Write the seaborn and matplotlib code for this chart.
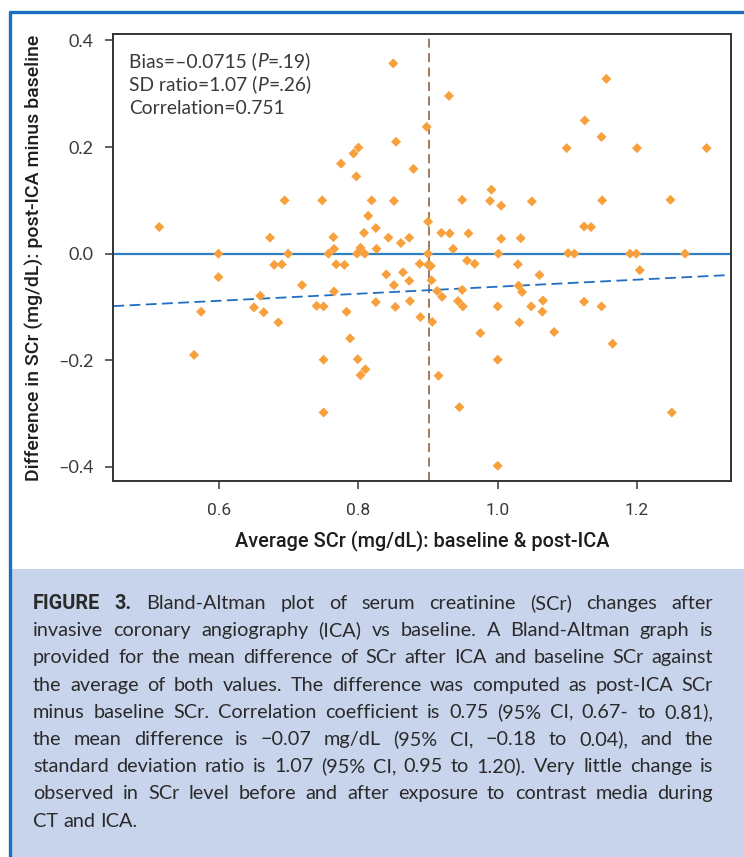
import numpy as np
import pandas as pd
import matplotlib
matplotlib.use("Agg")
import matplotlib.pyplot as plt
import seaborn as sns
from matplotlib.lines import Line2D
from matplotlib.patches import Rectangle

# ---------------- data ----------------
avg_scr = [0.514, 0.694, 0.673, 0.599, 0.699, 0.850, 0.930, 0.898, 0.854, 0.800,
           0.793, 0.775, 0.797, 0.879, 0.748, 0.819, 0.851, 0.949, 0.991, 0.989,
           1.005, 0.814, 0.825, 0.808, 0.764, 0.843, 0.873, 0.900, 0.919, 0.931,
           0.958, 1.005, 1.033, 0.765, 0.803, 0.826, 0.861, 0.936, 0.757, 0.798,
           0.809, 0.900, 1.001, 1.156, 1.125, 1.149, 1.099, 1.200, 1.300, 1.049,
           1.150, 1.248, 1.124, 1.134, 1.101, 1.110, 1.190, 1.199, 1.269, 0.679,
           0.690, 0.599, 0.719, 0.659, 0.650, 0.664, 0.685, 0.574, 0.564, 0.740,
           0.768, 0.780, 0.888, 0.900, 0.904, 0.956, 0.967, 1.029, 0.840, 0.864,
           0.851, 0.873, 0.905, 0.765, 0.913, 0.920, 0.949, 0.943, 0.950, 0.750,
           0.783, 0.825, 0.853, 0.874, 0.889, 0.906, 1.000, 1.030, 0.788, 0.975,
           0.750, 0.799, 0.810, 0.803, 0.915, 1.000, 0.945, 0.750, 1.000, 1.031,
           1.060, 1.204, 1.035, 1.065, 1.048, 1.064, 1.124, 1.149, 1.081, 1.165,
           1.250]
diff_scr = [0.050, 0.100, 0.030, 0.000, 0.000, 0.357, 0.296, 0.238, 0.210, 0.199,
            0.188, 0.169, 0.145, 0.159, 0.100, 0.100, 0.099, 0.101, 0.120, 0.099,
            0.090, 0.071, 0.048, 0.039, 0.031, 0.030, 0.030, 0.060, 0.039, 0.038,
            0.038, 0.028, 0.029, 0.009, 0.011, 0.009, 0.020, 0.009, 0.000, 0.000,
            0.000, 0.000, 0.000, 0.328, 0.250, 0.219, 0.198, 0.198, 0.198, 0.098,
            0.100, 0.101, 0.051, 0.050, 0.001, 0.000, 0.000, 0.000, 0.000, -0.021,
            -0.020, -0.044, -0.059, -0.079, -0.101, -0.110, -0.129, -0.109, -0.190, -0.098,
            -0.020, -0.021, -0.019, -0.021, -0.023, -0.013, -0.019, -0.020, -0.039, -0.035,
            -0.059, -0.051, -0.050, -0.071, -0.070, -0.081, -0.068, -0.089, -0.099, -0.099,
            -0.109, -0.091, -0.100, -0.089, -0.119, -0.128, -0.099, -0.060, -0.159, -0.149,
            -0.199, -0.198, -0.217, -0.228, -0.229, -0.199, -0.288, -0.298, -0.398, -0.129,
            -0.040, -0.031, -0.072, -0.088, -0.099, -0.109, -0.090, -0.099, -0.147, -0.169,
            -0.298]
mean_avg = 0.901          # vertical reference line
zero_diff = 0.0           # horizontal reference line
reg_intercept = -0.128    # regression of difference on average
reg_slope = 0.066
x_ticks = [0.6, 0.8, 1.0, 1.2]
y_ticks = [0.4, 0.2, 0.0, -0.2, -0.4]
stats_lines = [
    [("Bias=\u20130.0715 (", "n"), ("P", "i"), ("=.19)", "n")],
    [("SD ratio=1.07 (", "n"), ("P", "i"), ("=.26)", "n")],
    [("Correlation=0.751", "n")],
]
x_label = "Average SCr (mg/dL): baseline & post-ICA"
y_label = "Difference in SCr (mg/dL): post-ICA minus baseline"
caption_lines = [
    "FIGURE 3. Bland-Altman plot of serum creatinine (SCr) changes after",
    "invasive coronary angiography (ICA) vs baseline. A Bland-Altman graph is",
    "provided for the mean difference of SCr after ICA and baseline SCr against",
    "the average of both values. The difference was computed as post-ICA SCr",
    "minus baseline SCr. Correlation coefficient is 0.75 (95% CI, 0.67- to 0.81),",
    "the mean difference is \u22120.07 mg/dL (95% CI, \u22120.18 to 0.04), and the",
    "standard deviation ratio is 1.07 (95% CI, 0.95 to 1.20). Very little change is",
    "observed in SCr level before and after exposure to contrast media during",
    "CT and ICA.",
]

# ---------------- style ----------------
sns.set_style("ticks")
plt.rcParams['font.family'] = ['Lato', 'DejaVu Sans']
plt.rcParams['axes.unicode_minus'] = True

W, H = 744, 857
fig = plt.figure(figsize=(W / 100, H / 100), dpi=100)
fig.patch.set_facecolor("white")

TEXT = "#3a3a3a"
BLUE_BORDER = "#1a6fc0"
ORANGE = "#f7a03c"
COND = ['Roboto', 'DejaVu Sans']
BODY = ['Lato', 'DejaVu Sans']

def fx(px):
    return px / W

def fy(py):
    return 1 - py / H

# caption box and border
fig.add_artist(Rectangle((fx(12), 0), 1 - fx(12), fy(569), transform=fig.transFigure,
                         facecolor="#c8d4eb", edgecolor="none", zorder=0))
fig.add_artist(Line2D([fx(10), fx(10)], [0, fy(11)], transform=fig.transFigure,
                      color=BLUE_BORDER, lw=2.4, solid_capstyle="butt"))
fig.add_artist(Line2D([fx(9), 1], [fy(11.5), fy(11.5)], transform=fig.transFigure,
                      color=BLUE_BORDER, lw=2.4, solid_capstyle="butt"))

ax = fig.add_axes([fx(113.3), fy(480.7), fx(731 - 113.3), (480.7 - 34.3) / H])
df = pd.DataFrame({"avg": avg_scr, "diff": diff_scr})
sns.scatterplot(data=df, x="avg", y="diff", ax=ax, marker="D", color=ORANGE,
                s=26, edgecolor="none", linewidth=0, zorder=3)
ax.axhline(zero_diff, color="#2f7fc4", lw=1.6, zorder=2)
ax.axvline(mean_avg, color="#9a7050", lw=1.3, ls=(0, (5, 3)), zorder=2)
ax.axline((0.0, reg_intercept), slope=reg_slope, color="#1f6fc0", lw=1.3,
          ls=(0, (6, 3)), zorder=2)

ax.set_xlim(0.448, 1.335)
ax.set_ylim(-0.426, 0.4116)
ax.set_xticks(x_ticks)
ax.set_yticks(y_ticks)
ax.set_xticklabels([f"{v:.1f}" for v in x_ticks], fontfamily=COND, fontsize=12.5, color=TEXT)
ax.set_yticklabels([f"{v:.1f}".replace("-", "\u2013") for v in y_ticks],
                   fontfamily=BODY, fontsize=13, color=TEXT)
ax.tick_params(axis="both", direction="out", length=6, width=1.3, color="#555555")
ax.tick_params(axis="x", pad=10)
ax.tick_params(axis="y", pad=8)
for s in ax.spines.values():
    s.set_visible(True)
    s.set_color("#333333")
    s.set_linewidth(1.4)
ax.set_xlabel(x_label, fontfamily=COND, fontweight="medium", fontsize=14.3,
              color="#1e1e1e", labelpad=9)
ax.set_ylabel(y_label, fontfamily=COND, fontweight="medium", fontsize=14,
              color="#1e1e1e", labelpad=10)

fig.canvas.draw()
renderer = fig.canvas.get_renderer()


def width_px(s, **kw):
    t = fig.text(0, 0, s, **kw)
    w = t.get_window_extent(renderer).width
    t.remove()
    return w


# stats annotation (baseline aligned)
stat_kw = dict(fontsize=13.9, color=TEXT, family=BODY)
for i, runs in enumerate(stats_lines):
    xpix = 129
    ypix = 67 + i * 23.6
    for txt, st in runs:
        kw = dict(stat_kw)
        if st == "i":
            kw["style"] = "italic"
        fig.text(fx(xpix), fy(ypix), txt, va="baseline", ha="left", **kw)
        xpix += width_px(txt, **kw)

# caption, justified, baseline aligned
cap_kw = dict(fontsize=14.3, color="#2a2a2a", family=BODY)
bold_kw = dict(fontsize=14.3, color="#2a2a2a", fontweight="bold", family=COND)
left, right = 33, 713
space_w = width_px("a a", **cap_kw) - 2 * width_px("a", **cap_kw)
for i, line in enumerate(caption_lines):
    ypix = 609 + i * 27.2
    words = line.split(" ")
    kws = []
    for j, wd in enumerate(words):
        if i == 0 and j < 2:
            kws.append(bold_kw)
        else:
            kws.append(cap_kw)
    widths = [width_px(wd, **k) for wd, k in zip(words, kws)]
    if i < len(caption_lines) - 1 and len(words) > 1:
        gap = max((right - left - sum(widths)) / (len(words) - 1), 0.6 * space_w)
    else:
        gap = space_w
    xpix = left
    for wd, k, w in zip(words, kws, widths):
        fig.text(fx(xpix), fy(ypix), wd, va="baseline", ha="left", **k)
        xpix += w + gap

fig.savefig("out.png", dpi=100, facecolor="white")
